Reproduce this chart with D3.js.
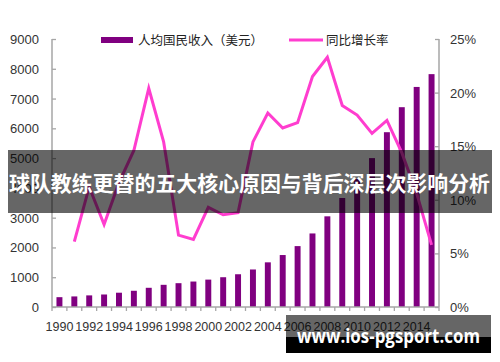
<!DOCTYPE html>
<html><head><meta charset="utf-8">
<script src="https://cdn.jsdelivr.net/npm/d3@7"></script>
<style>body{margin:0;background:#fff;}svg{display:block;}</style>
</head><body>
<svg id="c" width="500" height="362"></svg>
<script>
const years = d3.range(1990, 2016);
const income = [330,355,390,420,480,545,645,745,800,855,920,1000,1100,1260,1500,1745,2045,2470,3045,3660,4300,5000,5870,6710,7390,7820];
const growth = [null,6.1,11.2,7.7,11.6,14.6,20.4,15.4,6.7,6.3,9.3,8.6,8.8,15.4,18.1,16.7,17.2,21.5,23.3,18.8,17.9,16.2,17.4,14.4,10.6,5.8];
const leftTicks = [0,1000,2000,3000,4000,5000,6000,7000,8000,9000];
const rightTicks = [0,5,10,15,20,25];
const xLabels = d3.range(1990, 2015, 2);
const legendBar = "人均国民收入（美元）";
const legendLine = "同比增长率";
const bannerText = "球队教练更替的五大核心原因与背后深层次影响分析";
const watermark = "www.ios-pgsport.com";

const svg = d3.select("#c");
const L = 52, R = 439, T = 39, B = 307;
const x = d3.scaleBand().domain(years).range([L, R]).paddingInner(0.6).paddingOuter(0.3);
const y = d3.scaleLinear().domain([0, 9000]).range([B, T]);
const y2 = d3.scaleLinear().domain([0, 25]).range([B, T]);
const axisCol = "#a6a6a6";
const font = "'Liberation Sans', Arial, sans-serif";

// bars
svg.append("g").selectAll("rect").data(years).join("rect")
  .attr("x", d => x(d)).attr("width", x.bandwidth())
  .attr("y", (d,i) => y(income[i])).attr("height", (d,i) => B - y(income[i]))
  .attr("fill", "#800080");

// left axis
const ga = svg.append("g").attr("transform", `translate(${L},0)`)
  .call(d3.axisRight(y).tickValues(leftTicks).tickSize(4).tickFormat(""));
ga.select(".domain").remove();
ga.selectAll("line").attr("stroke", axisCol).attr("stroke-width", 1.3);
svg.append("line").attr("x1", L).attr("x2", L).attr("y1", T).attr("y2", B).attr("stroke", axisCol).attr("stroke-width", 1.5);
svg.append("g").selectAll("text").data(leftTicks).join("text")
  .attr("x", 39).attr("y", d => y(d) + 5).attr("text-anchor", "end")
  .attr("font-family", font).attr("font-size", 13).attr("fill", "#333").text(d => d);

// right axis
const gr = svg.append("g").attr("transform", `translate(${R},0)`)
  .call(d3.axisLeft(y2).tickValues(rightTicks).tickSize(4).tickFormat(""));
gr.select(".domain").remove();
gr.selectAll("line").attr("stroke", axisCol).attr("stroke-width", 1.3);
svg.append("line").attr("x1", R).attr("x2", R).attr("y1", T).attr("y2", B).attr("stroke", axisCol).attr("stroke-width", 1.5);
svg.append("g").selectAll("text").data(rightTicks).join("text")
  .attr("x", 450).attr("y", d => y2(d) + 5).attr("text-anchor", "start")
  .attr("font-family", font).attr("font-size", 13).attr("fill", "#333").text(d => d + "%");

// x axis
svg.append("line").attr("x1", L).attr("x2", R).attr("y1", B).attr("y2", B).attr("stroke", axisCol).attr("stroke-width", 1.5);
const bounds = years.map(d => x(d) - x.step() * x.paddingInner() / 2).concat([R]);
svg.append("g").selectAll("line").data(bounds).join("line")
  .attr("x1", d => d).attr("x2", d => d).attr("y1", B).attr("y2", B + 4)
  .attr("stroke", axisCol).attr("stroke-width", 1.3);
svg.append("g").selectAll("text").data(xLabels).join("text")
  .attr("x", d => x(d) + x.bandwidth() / 2).attr("y", 331).attr("text-anchor", "middle")
  .attr("font-family", font).attr("font-size", 12.5).attr("fill", "#333").text(d => d);

// growth line
const lineGen = d3.line().defined(d => d[1] != null)
  .x(d => x(d[0]) + x.bandwidth() / 2).y(d => y2(d[1]));
svg.append("path").datum(years.map((d,i) => [d, growth[i]]))
  .attr("d", lineGen).attr("fill", "none").attr("stroke", "#ff3dcf").attr("stroke-width", 3).attr("stroke-linejoin", "miter");

// legend
svg.append("rect").attr("x", 101).attr("y", 37).attr("width", 32).attr("height", 6).attr("fill", "#800080");
svg.append("text").attr("x", 138).attr("y", 45).attr("font-family", "'Noto Sans CJK SC', sans-serif")
  .attr("font-size", 12.5).attr("fill", "#222").text(legendBar);
svg.append("line").attr("x1", 289).attr("x2", 323).attr("y1", 40).attr("y2", 40).attr("stroke", "#ff3dcf").attr("stroke-width", 3);
svg.append("text").attr("x", 326).attr("y", 45).attr("font-family", "'Noto Sans CJK SC', sans-serif")
  .attr("font-size", 12.5).attr("fill", "#222").text(legendLine);

// banner
svg.append("rect").attr("x", 8).attr("y", 150).attr("width", 484).attr("height", 63).attr("fill", "rgba(0,0,0,0.6)");
svg.append("text").attr("x", 9).attr("y", 191).attr("font-family", "'Noto Sans CJK SC', sans-serif")
  .attr("font-weight", "bold").attr("font-size", 21).attr("fill", "#fff")
  .attr("textLength", 481).attr("lengthAdjust", "spacingAndGlyphs").text(bannerText);

// watermark
svg.append("rect").attr("x", 286).attr("y", 315).attr("width", 205).attr("height", 22).attr("fill", "rgba(0,0,0,0.6)");
svg.append("rect").attr("x", 286).attr("y", 337).attr("width", 205).attr("height", 16).attr("fill", "#000");
svg.append("text").attr("x", 297).attr("y", 343).attr("font-family", "'Open Sans', 'DejaVu Sans', sans-serif")
  .attr("font-weight", "bold").attr("font-size", 19).attr("fill", "#fff")
  .attr("textLength", 183).attr("lengthAdjust", "spacingAndGlyphs").text(watermark);
</script>
</body></html>
